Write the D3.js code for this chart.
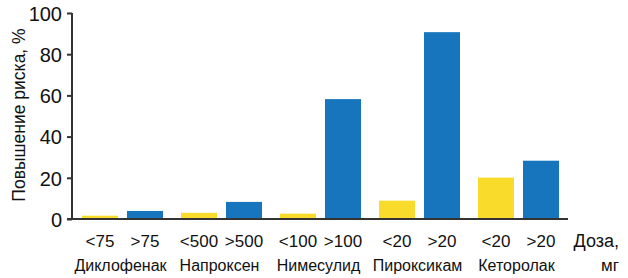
<!DOCTYPE html>
<html>
<head>
<meta charset="utf-8">
<style>
  body { margin: 0; background: white; }
  svg { display: block; }
  text { font-family: "Liberation Sans", Arial, sans-serif; fill: #111; }
  .axis path, .axis line { stroke: #333; stroke-width: 2; }
</style>
</head>
<body>
<script src="https://cdn.jsdelivr.net/npm/d3@7"></script>
<script>
  var drugs = ["Диклофенак", "Напроксен", "Нимесулид", "Пироксикам", "Кеторолак"];
  var lowLabels = ["<75", "<500", "<100", "<20", "<20"];
  var highLabels = [">75", ">500", ">100", ">20", ">20"];
  var lowValues = [1.6, 3.0, 2.6, 8.9, 20.1];
  var highValues = [3.9, 8.3, 58.2, 90.7, 28.3];
  var yTicks = [0, 20, 40, 60, 80, 100];

  var w = 628, h = 278;
  var mLeft = 72, mRight = 567, mTop = 13, mBottom = 219;

  var svg = d3.select("body").append("svg").attr("width", w).attr("height", h);

  var x0 = d3.scaleBand().domain(drugs).range([mLeft, mRight]);
  var x1 = d3.scaleBand().domain(["lo", "hi"]).range([10, x0.bandwidth() - 8]).paddingInner(0.2);
  var y = d3.scaleLinear().domain([0, 100]).range([mBottom, mTop]);

  var rows = drugs.map(function(d, i) {
    return [
      { drug: d, key: "lo", v: lowValues[i], lab: lowLabels[i] },
      { drug: d, key: "hi", v: highValues[i], lab: highLabels[i] }
    ];
  }).flat();
  var colors = { lo: "#f9dc2b", hi: "#1775bd" };

  svg.selectAll("rect")
    .data(rows)
    .enter()
    .append("rect")
    .attr("x", d => x0(d.drug) + x1(d.key))
    .attr("width", x1.bandwidth())
    .attr("y", d => y(d.v))
    .attr("height", d => y(0) - y(d.v))
    .attr("fill", d => colors[d.key]);

  // y axis
  var yAxis = d3.axisLeft(y).tickValues(yTicks).tickSize(5).tickPadding(5);
  var gy = svg.append("g").attr("class", "axis").attr("transform", "translate(" + mLeft + ",0)").call(yAxis);
  gy.select(".domain").attr("d", "M0," + mTop + "V" + mBottom);
  gy.selectAll("text").style("font-size", "20px").attr("dy", "0.36em");

  // baseline
  svg.append("line")
    .attr("x1", mLeft - 5).attr("x2", mRight + 1)
    .attr("y1", y(0)).attr("y2", y(0))
    .attr("stroke", "#333").attr("stroke-width", 2);

  // dose labels
  svg.selectAll(".dose")
    .data(rows)
    .enter()
    .append("text")
    .attr("class", "dose")
    .attr("x", d => x0(d.drug) + x1(d.key) + x1.bandwidth() / 2)
    .attr("y", 247)
    .attr("text-anchor", "middle")
    .style("font-size", "17px")
    .text(d => d.lab);

  // drug names
  svg.selectAll(".drug")
    .data(drugs)
    .enter()
    .append("text")
    .attr("class", "drug")
    .attr("x", d => x0(d) + x0.bandwidth() / 2 - 1)
    .attr("y", 271)
    .attr("text-anchor", "middle")
    .style("font-size", "16px")
    .text(d => d);

  svg.append("text").attr("x", 619).attr("y", 247).attr("text-anchor", "end")
    .style("font-size", "18px").text("Доза,");
  svg.append("text").attr("x", 619).attr("y", 271).attr("text-anchor", "end")
    .style("font-size", "17px").text("мг");

  svg.append("text")
    .attr("transform", "translate(25,115) rotate(-90)")
    .attr("text-anchor", "middle")
    .style("font-size", "17.5px")
    .text("Повышение риска, %");
</script>
</body>
</html>
